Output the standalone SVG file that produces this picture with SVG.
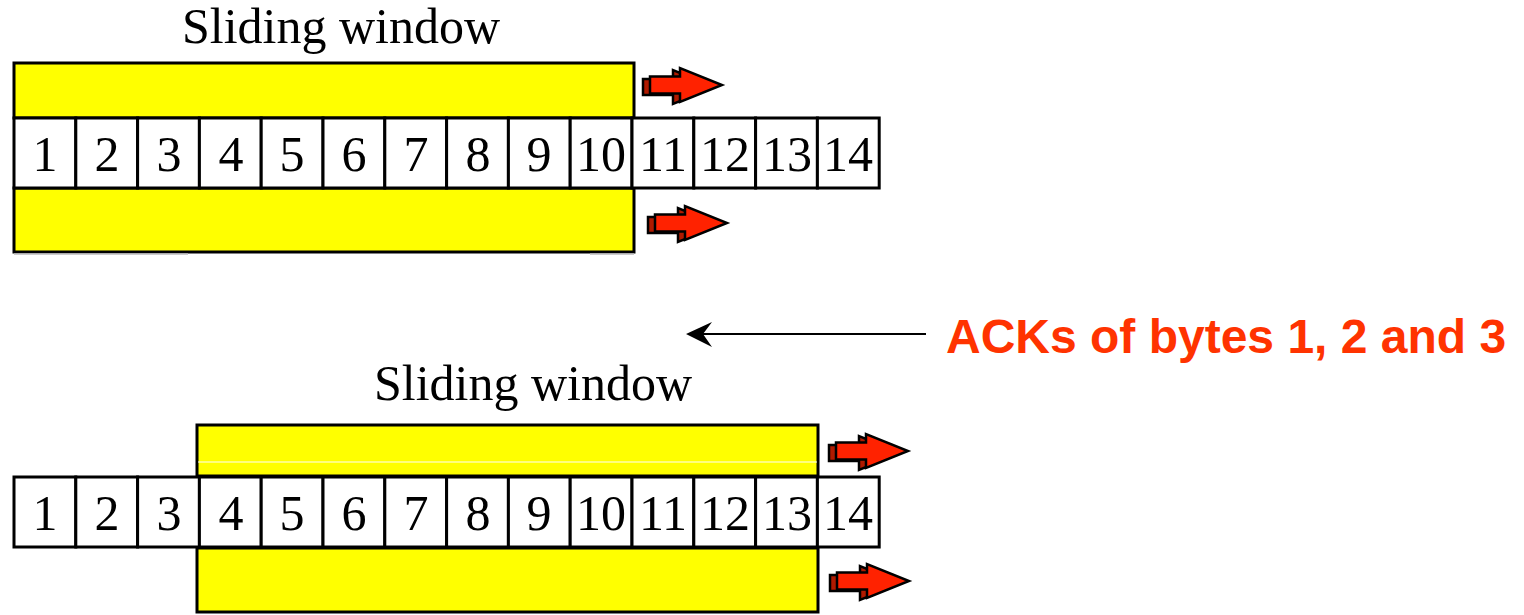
<svg xmlns="http://www.w3.org/2000/svg" width="1524" height="615" viewBox="0 0 1524 615">
  <style>
    .win { fill: #ffff00; stroke: #000; stroke-width: 3; }
    .cell { fill: #fff; stroke: #000; stroke-width: 3; }
    .num { font-family: "Liberation Serif", "Times New Roman", serif; font-size: 50px; fill: #000; text-anchor: middle; }
    .title { font-family: "Liberation Serif", "Times New Roman", serif; font-size: 50px; fill: #000; }
    .ack { font-family: "Liberation Sans", Arial, sans-serif; font-weight: bold; font-size: 48px; fill: #ff3300; }
    .shade { stroke: #bbb; stroke-width: 1.5; }
  </style>
  <defs>
    <!-- block arrow with a dark back face for depth; origin at left-center -->
    <g id="move">
      <polygon points="0,-6 30,-6 30,-15 72,2 30,19 30,10 0,10" fill="#b01a00" stroke="#000" stroke-width="2.5"/>
      <polygon points="7,-8.5 37,-8.5 37,-17 79,0 37,17 37,8.5 7,8.5" fill="#ff2200" stroke="#000" stroke-width="2.5"/>
    </g>
    <!-- row of 14 byte cells -->
    <g id="cells">
      <rect class="cell" x="14" y="0" width="61.8" height="70"/>
      <rect class="cell" x="75.8" y="0" width="61.8" height="70"/>
      <rect class="cell" x="137.6" y="0" width="61.8" height="70"/>
      <rect class="cell" x="199.4" y="0" width="61.8" height="70"/>
      <rect class="cell" x="261.2" y="0" width="61.8" height="70"/>
      <rect class="cell" x="323" y="0" width="61.8" height="70"/>
      <rect class="cell" x="384.8" y="0" width="61.8" height="70"/>
      <rect class="cell" x="446.6" y="0" width="61.8" height="70"/>
      <rect class="cell" x="508.4" y="0" width="61.8" height="70"/>
      <rect class="cell" x="570.2" y="0" width="61.8" height="70"/>
      <rect class="cell" x="632" y="0" width="61.8" height="70"/>
      <rect class="cell" x="693.8" y="0" width="61.8" height="70"/>
      <rect class="cell" x="755.6" y="0" width="61.8" height="70"/>
      <rect class="cell" x="817.4" y="0" width="61.8" height="70"/>
      <text class="num" x="45" y="53">1</text>
      <text class="num" x="107" y="53">2</text>
      <text class="num" x="169" y="53">3</text>
      <text class="num" x="231" y="53">4</text>
      <text class="num" x="292" y="53">5</text>
      <text class="num" x="354" y="53">6</text>
      <text class="num" x="416" y="53">7</text>
      <text class="num" x="478" y="53">8</text>
      <text class="num" x="539" y="53">9</text>
      <text class="num" x="601" y="53">10</text>
      <text class="num" x="663" y="53">11</text>
      <text class="num" x="725" y="53">12</text>
      <text class="num" x="787" y="53">13</text>
      <text class="num" x="848" y="53">14</text>
    </g>
  </defs>

  <!-- before the ACKs: window covers bytes 1-10 -->
  <g id="window-before">
    <text class="title" x="182" y="43">Sliding window</text>
    <rect class="win" x="14" y="63" width="620" height="55"/>
    <rect class="win" x="14" y="188" width="620" height="64"/>
    <line class="shade" x1="14" y1="254" x2="188" y2="254"/>
    <line class="shade" x1="590" y1="254" x2="634" y2="254"/>
    <use href="#cells" transform="translate(0,118)"/>
    <use href="#move" transform="translate(643,85)"/>
    <use href="#move" transform="translate(648,223)"/>
  </g>

  <!-- after the ACKs: window slid to bytes 4-13 -->
  <g id="window-after">
    <text class="title" x="374" y="400">Sliding window</text>
    <rect class="win" x="197" y="425" width="621" height="51"/>
    <line x1="198" y1="462" x2="817" y2="462" stroke="#fff" stroke-width="1"/>
    <rect class="win" x="197" y="548" width="621" height="64"/>
    <use href="#cells" transform="translate(0,477)"/>
    <use href="#move" transform="translate(829,451)"/>
    <use href="#move" transform="translate(830,581)"/>
  </g>

  <g id="ack-label">
    <text class="ack" x="946" y="353">ACKs of bytes 1, 2 and 3</text>
  </g>

  <g id="connectors">
    <line x1="702" y1="334" x2="926" y2="334" stroke="#000" stroke-width="2"/>
    <polygon points="686,334 712,322 703,334 712,347" fill="#000"/>
  </g>
</svg>
